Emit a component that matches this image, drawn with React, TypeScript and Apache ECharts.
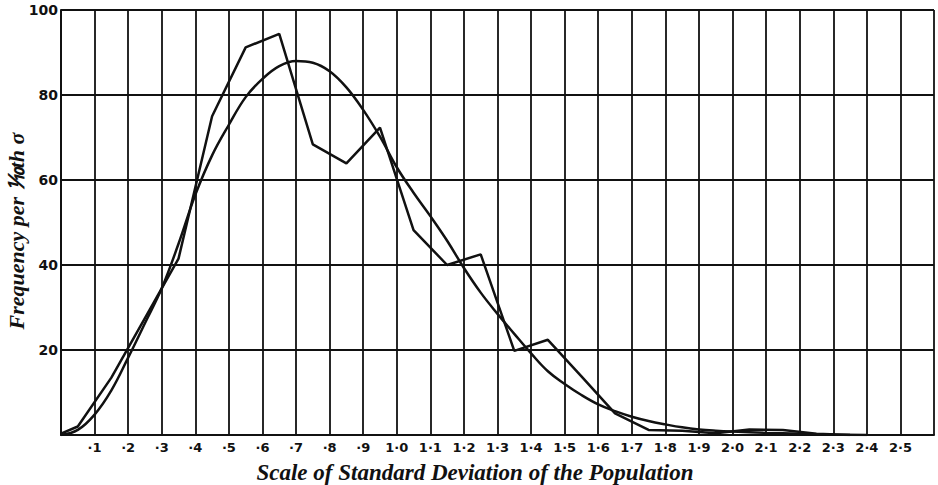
import React, { useEffect, useRef } from "react";
import * as echarts from "echarts";

// Tick labels (index = tenths of a standard deviation)
const xTickLabels = [
  "", "·1", "·2", "·3", "·4", "·5", "·6", "·7", "·8", "·9",
  "1·0", "1·1", "1·2", "1·3", "1·4", "1·5", "1·6", "1·7", "1·8", "1·9",
  "2·0", "2·1", "2·2", "2·3", "2·4", "2·5", "",
];
const yTickLabels = ["", "20", "40", "60", "80", "100"];

// Observed frequency polygon (mid-points of tenth-sigma classes)
const polygonX = [0, 0.05, 0.15, 0.25, 0.35, 0.45, 0.55, 0.65, 0.75, 0.85, 0.95, 1.05, 1.15, 1.25, 1.35, 1.45, 1.55, 1.65, 1.75, 1.85, 1.95, 2.05, 2.15, 2.25, 2.35];
const polygonY = [0.3, 2, 13.5, 27.5, 41.5, 75, 91.2, 94.4, 68.4, 63.9, 72.3, 48.2, 40, 42.5, 19.8, 22.4, 13.8, 5.1, 1.2, 1.0, 0.4, 1.3, 1.2, 0.3, 0];

// Fitted theoretical curve
const curveX = [0, 0.05, 0.1, 0.15, 0.2, 0.25, 0.3, 0.35, 0.4, 0.45, 0.5, 0.55, 0.6, 0.65, 0.7, 0.75, 0.8, 0.85, 0.9, 0.95, 1.0, 1.05, 1.1, 1.15, 1.2, 1.25, 1.3, 1.35, 1.4, 1.45, 1.5, 1.55, 1.6, 1.65, 1.7, 1.75, 1.8, 1.85, 1.9, 1.95, 2.0, 2.1, 2.2, 2.3, 2.4];
const curveY = [0, 1.2, 4.8, 10.5, 18.2, 26.3, 34.5, 45, 56.5, 65.8, 73, 79.5, 83.8, 86.8, 88, 87.6, 85.6, 81.8, 76.5, 70.2, 63, 57, 51.5, 45.7, 39.3, 33.5, 28.5, 23.8, 19.2, 15, 12, 9.4, 7.2, 5.6, 4.3, 3.3, 2.5, 1.8, 1.3, 1.0, 0.8, 0.5, 0.3, 0.1, 0];

const xTitle = "Scale of Standard Deviation of the Population";
const yTitle = "Frequency per ⅒th σ";

const INK = "#111";

export default function App() {
  const ref = useRef<HTMLDivElement>(null);
  useEffect(() => {
    if (!ref.current) return;
    const chart = echarts.init(ref.current, null, { renderer: "svg" });
    const polygon = polygonX.map((x, i) => [x, polygonY[i]]);
    const curve = curveX.map((x, i) => [x, curveY[i]]);
    chart.setOption({
      animation: false,
      backgroundColor: "#fff",
      grid: { left: 61, right: 4, top: 10, bottom: 50 },
      xAxis: {
        type: "value",
        min: 0,
        max: 2.6,
        interval: 0.1,
        axisLine: { show: true, onZero: false, lineStyle: { color: INK, width: 2 } },
        axisTick: { show: false },
        splitLine: { show: true, lineStyle: { color: INK, width: 1.8 } },
        axisLabel: {
          margin: 6,
          color: INK,
          fontFamily: "DejaVu Sans",
          fontWeight: "bold",
          fontSize: 13,
          formatter: (v: number) => xTickLabels[Math.round(v * 10)] ?? "",
        },
      },
      yAxis: {
        type: "value",
        min: 0,
        max: 100,
        interval: 20,
        axisLine: { show: true, lineStyle: { color: INK, width: 2 } },
        axisTick: { show: false },
        splitLine: { show: true, lineStyle: { color: INK, width: 1.8 } },
        axisLabel: {
          margin: 3,
          color: INK,
          fontFamily: "DejaVu Sans",
          fontWeight: "bold",
          fontSize: 14,
          formatter: (v: number) => yTickLabels[Math.round(v / 20)] ?? "",
        },
      },
      graphic: [
        {
          type: "text",
          x: 475,
          y: 472,
          style: {
            text: xTitle,
            fontFamily: "Liberation Serif",
            fontWeight: "bold",
            fontStyle: "italic",
            fontSize: 23,
            fill: INK,
            align: "center",
            verticalAlign: "middle",
          },
        },
        {
          type: "text",
          x: 16,
          y: 231,
          rotation: Math.PI / 2,
          style: {
            text: yTitle,
            fontFamily: "Liberation Serif",
            fontWeight: "bold",
            fontStyle: "italic",
            fontSize: 22,
            fill: INK,
            align: "center",
            verticalAlign: "middle",
          },
        },
      ],
      series: [
        {
          type: "line",
          data: polygon,
          showSymbol: false,
          lineStyle: { color: INK, width: 2.5 },
          z: 5,
        },
        {
          type: "line",
          data: curve,
          smooth: 0.4,
          showSymbol: false,
          lineStyle: { color: INK, width: 2.5 },
          z: 5,
        },
      ],
    });
    return () => chart.dispose();
  }, []);
  return (
    <div
      ref={ref}
      style={{ position: "fixed", left: 0, top: 0, width: 938, height: 485, background: "#fff" }}
    />
  );
}
